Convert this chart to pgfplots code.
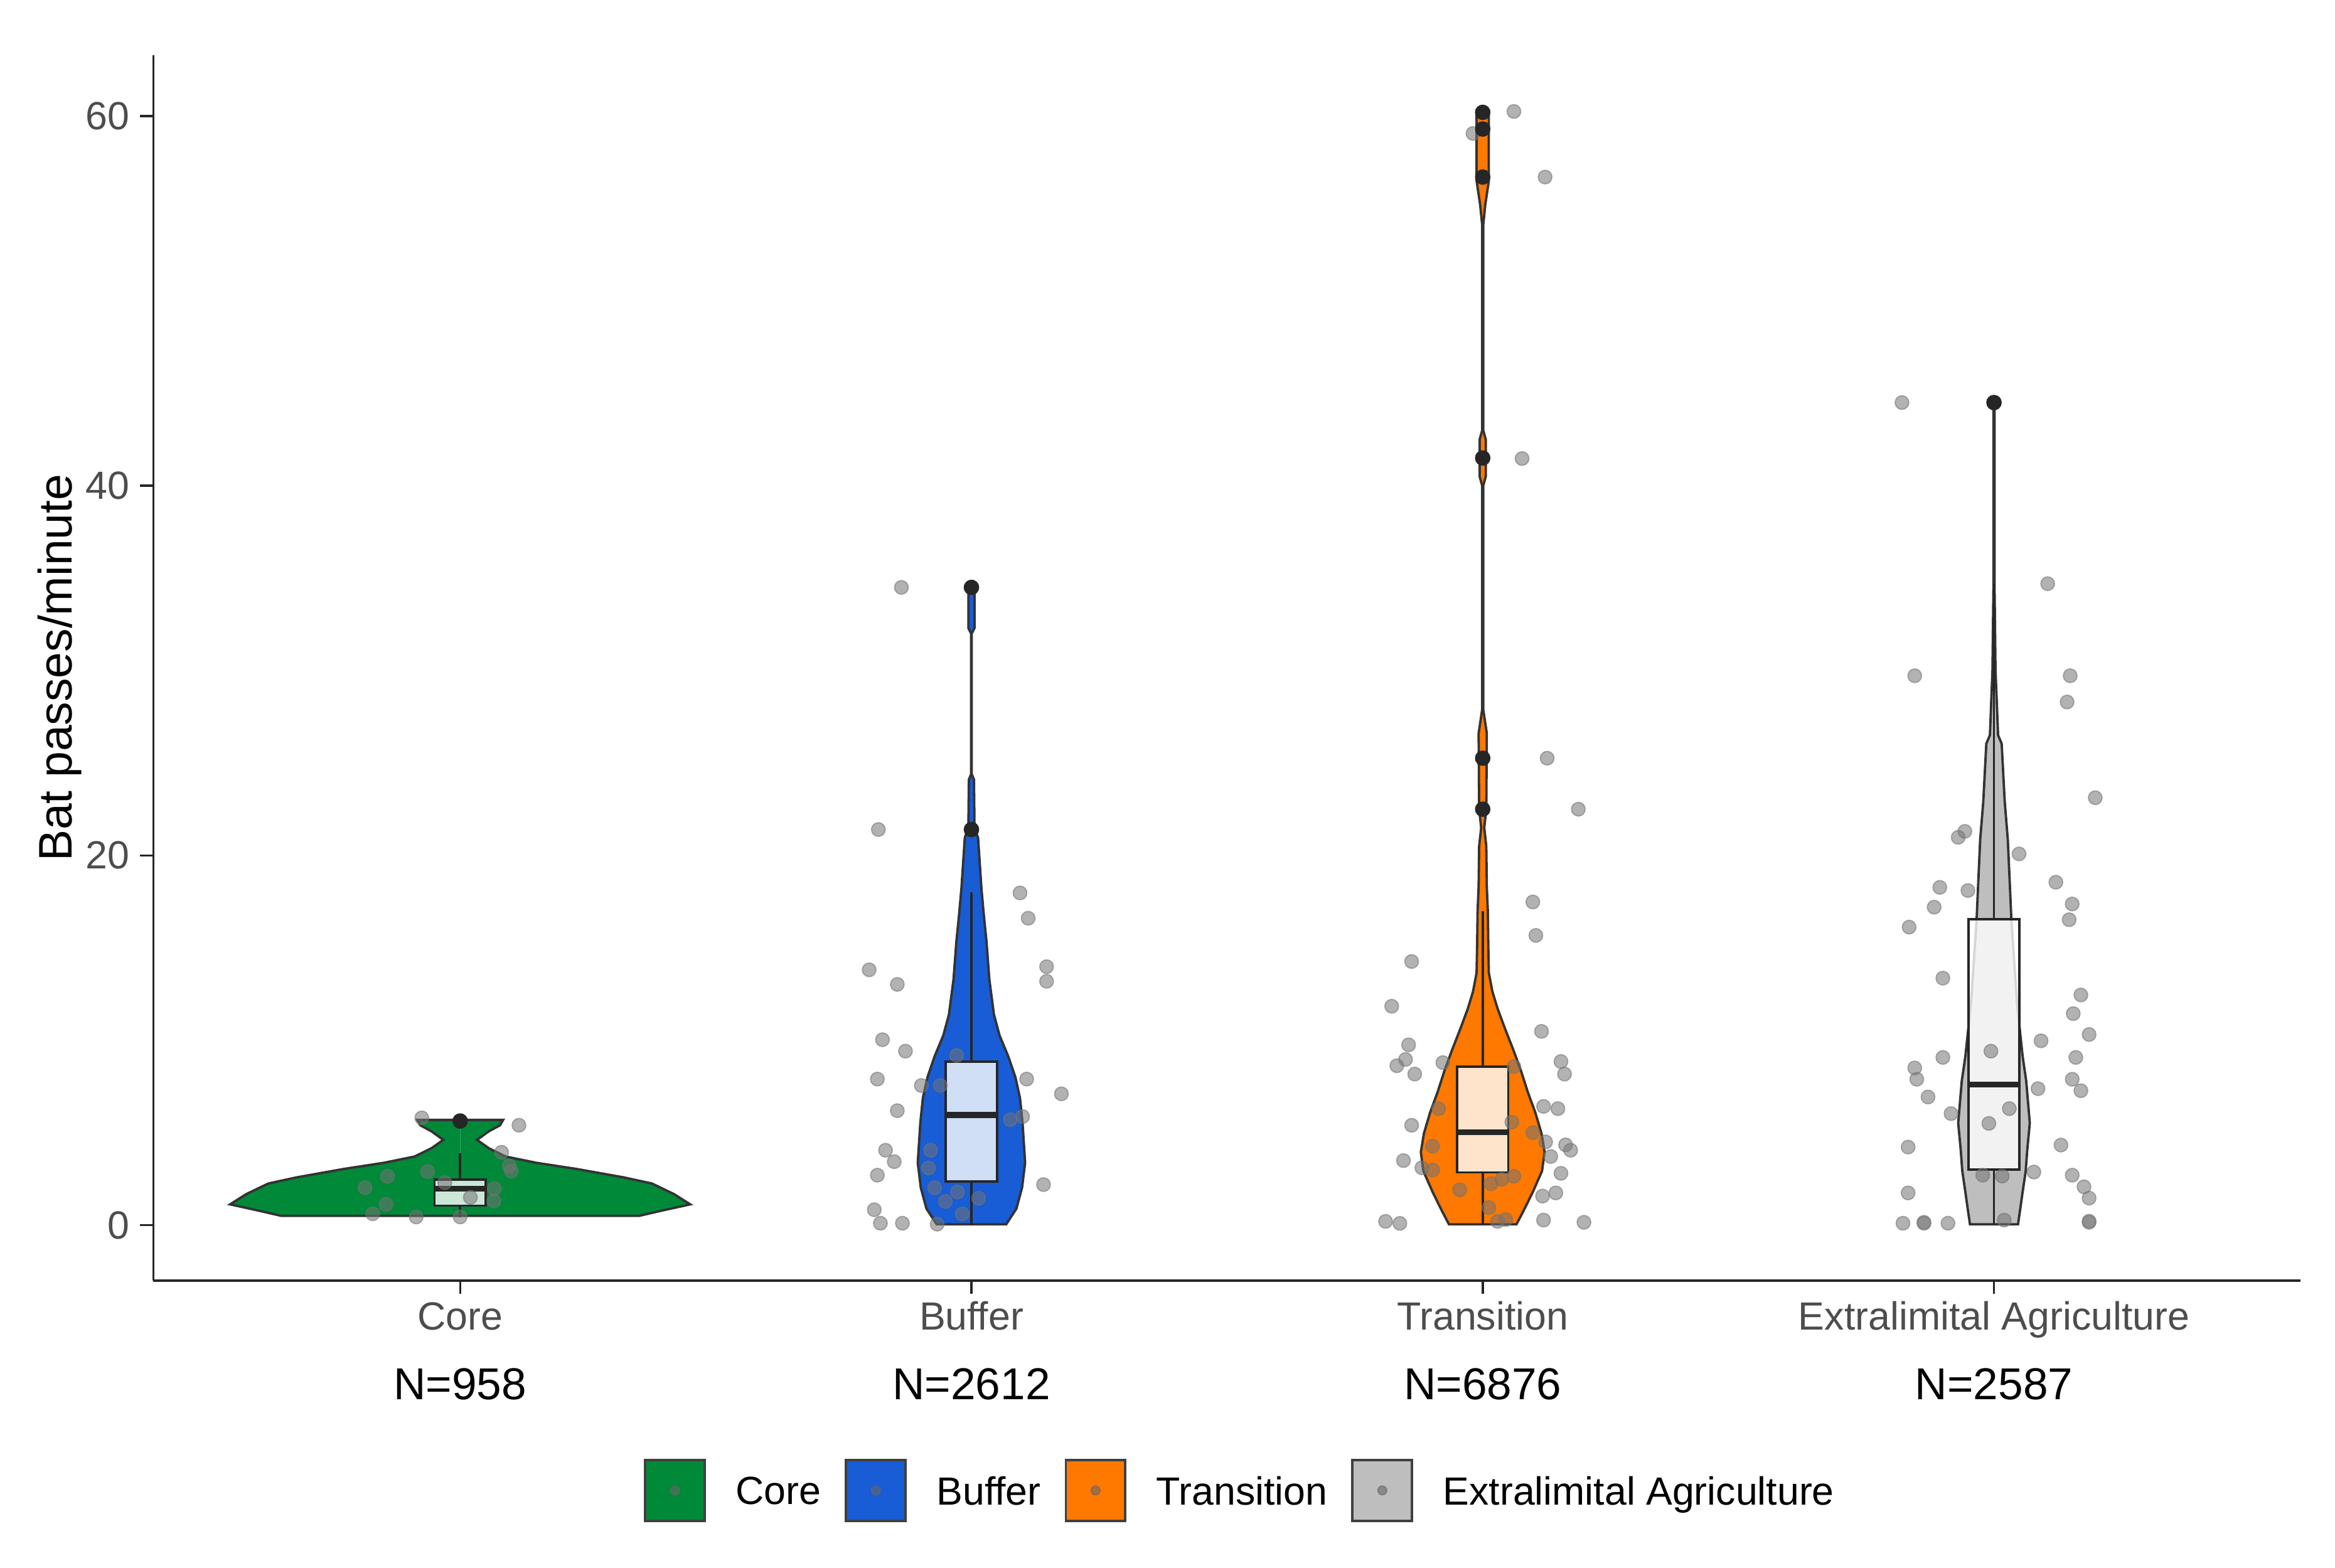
\documentclass[border=0pt]{standalone}
\usepackage{fontspec}
\setmainfont{Liberation Sans}
\usepackage{pgfplots}
\usepackage{pgfplotstable}
\pgfplotsset{compat=1.18}
\usepgfplotslibrary{statistics}

\definecolor{coreg}{RGB}{0,137,56}
\definecolor{bufb}{RGB}{24,92,214}
\definecolor{trano}{RGB}{255,121,0}
\definecolor{extg}{RGB}{190,190,190}
\definecolor{labgray}{RGB}{77,77,77}

\newcommand{\ticksize}{\fontsize{13.2pt}{15.8pt}\selectfont}
\newcommand{\labsize}{\fontsize{15.8pt}{19pt}\selectfont}
\newcommand{\nsize}{\fontsize{15pt}{18pt}\selectfont}

% violin outlines: y and half width (category units)
\pgfplotstableread{
y w
0.50 0
0.50 0.350
0.78 0.394
1.12 0.450
1.68 0.418
2.25 0.375
2.58 0.320
3.04 0.227
3.37 0.149
3.71 0.089
4.16 0.056
4.61 0.033
5.07 0.056
5.40 0.078
5.69 0.084
5.69 0
}\coreviolin

\pgfplotstableread{
y w
0.04 0
0.04 0.068
0.89 0.088
2.02 0.099
3.37 0.105
5.52 0.100
6.87 0.095
8.00 0.086
9.13 0.072
10.26 0.055
11.39 0.044
13.30 0.035
15.33 0.0295
16.70 0.0245
18.20 0.0196
20.95 0.013
21.50 0.006
24.10 0.005
24.40 0.0005
32.00 0.0005
32.30 0.006
34.50 0.006
34.50 0
}\bufviolin

\pgfplotstableread{
y w
0.04 0
0.04 0.066
0.78 0.080
1.79 0.098
2.92 0.116
3.94 0.121
4.96 0.115
6.08 0.103
7.21 0.088
8.34 0.075
9.47 0.060
10.60 0.044
11.72 0.029
12.63 0.019
13.64 0.012
15.00 0.011
17.00 0.010
18.30 0.008
20.50 0.007
21.50 0.003
22.50 0.007
26.60 0.008
27.90 0.001
40.00 0.001
40.50 0.006
42.50 0.006
43.00 0.001
54.10 0.001
55.20 0.005
56.50 0.012
60.30 0.012
60.30 0
}\tranviolin

\pgfplotstableread{
y w
0.04 0
0.04 0.047
1.00 0.052
1.79 0.056
2.92 0.062
4.05 0.065
5.52 0.070
7.80 0.063
9.13 0.056
12.00 0.045
16.50 0.034
17.80 0.032
20.86 0.027
22.90 0.021
26.05 0.015
26.50 0.008
30.00 0.003
34.70 0.001
44.50 0.001
44.50 0
}\extviolin

\newcommand{\violin}[3]{%
  \addplot[fill=#3, draw=none] table[x expr=#2-\thisrow{w}, y=y] {#1};
  \addplot[fill=#3, draw=none] table[x expr=#2+\thisrow{w}, y=y] {#1};
  \addplot[draw=black!80, line width=0.8pt] table[x expr=#2-\thisrow{w}, y=y] {#1};
  \addplot[draw=black!80, line width=0.8pt] table[x expr=#2+\thisrow{w}, y=y] {#1};
}
\newcommand{\vkey}[1]{%
  \addlegendimage{legend image code/.code={
    \draw[fill=#1, draw=black!75, line width=0.8pt] (0pt,-9.5pt) rectangle (20pt,11pt);
    \fill[black!60, opacity=0.6] (10pt,0.75pt) circle (1.5pt);}}
}
\newcommand{\statbox}[6]{%
  \addplot[boxplot prepared={draw position=#1, lower whisker=#2, lower quartile=#3,
      median=#4, upper quartile=#5, upper whisker=#6, box extend=0.1, whisker extend=0},
    fill=white, fill opacity=0.8, draw=black!85, line width=0.8pt, mark=none] coordinates {};
}

\begin{document}
\begin{tikzpicture}
\begin{axis}[
  width=721pt, height=411.5pt, scale only axis,
  xmin=0.4, xmax=4.6, ymin=-3.0, ymax=63.3,
  axis lines=left, axis line style={-, line width=0.75pt, black!85},
  xtick={1,2,3,4},
  xticklabels={Core,Buffer,Transition,Extralimital Agriculture},
  ytick={0,20,40,60},
  tick align=outside, major tick length=4.5pt,
  tick style={line width=0.75pt, black!85},
  ticklabel style={font=\ticksize, text=labgray},
  xticklabel style={anchor=base, yshift=-12pt},
  /pgf/number format/assume math mode=true,
  ylabel={Bat passes/minute},
  every axis y label/.style={at={(axis description cs:-0.0437,0.5)}, rotate=90, anchor=center, font=\labsize},
  every axis plot/.append style={forget plot},
  boxplot/draw direction=y,
  boxplot/every median/.style={line width=2pt},
  clip=false,
  legend columns=4,
  legend cell align=left,
  legend style={at={(axis description cs:0.507,-0.1713)}, anchor=center, draw=none, fill=none,
    font=\ticksize, inner sep=0pt,
    /tikz/every odd column/.append style={column sep=8pt},
    /tikz/every even column/.append style={column sep=6pt}},
]
\violin{\coreviolin}{1}{coreg}
\violin{\bufviolin}{2}{bufb}
\violin{\tranviolin}{3}{trano}
\violin{\extviolin}{4}{extg}

% jittered observations
\addplot[only marks, mark=*, mark size=2.3pt, color=black!55, opacity=0.55] coordinates {
(0.925,5.8) (1.115,5.4) (1.081,3.94) (1.1,2.92) (0.936,2.9) (0.858,2.64) (0.814,2.02) (1.067,1.97)
(0.855,1.12) (0.829,0.61) (0.914,0.44) (1.0,0.44) (1.066,1.3) (1.096,3.2) (1.02,1.5) (0.97,2.3)
(1.863,34.5) (1.818,21.4) (2.095,17.97) (2.111,16.6) (1.8,13.81) (1.855,13.02) (2.147,13.98) (2.147,13.19)
(1.826,10.03) (1.871,9.41) (1.816,7.9) (2.108,7.9) (2.176,7.1) (1.902,7.55) (1.939,7.55) (1.971,9.18)
(1.855,6.19) (2.076,5.7) (2.1,5.87) (1.832,4.05) (1.849,3.43) (1.92,4.05) (1.916,3.09) (1.816,2.7)
(2.141,2.19) (1.928,2.02) (1.973,1.79) (1.949,1.28) (2.014,1.45) (1.982,0.6) (1.81,0.83) (1.822,0.1)
(1.865,0.1) (1.933,0.05)
(3.061,60.25) (2.981,59.06) (3.122,56.7) (3.077,41.47) (3.126,25.26) (3.187,22.5) (3.098,17.48) (3.104,15.67)
(2.861,14.26) (2.822,11.84) (3.115,10.48) (2.855,9.75) (2.849,8.96) (2.832,8.62) (2.867,8.17) (2.922,8.79)
(3.153,8.85) (3.16,8.17) (3.061,8.57) (2.914,6.3) (3.119,6.42) (3.147,6.3) (2.861,5.4) (3.057,5.57)
(3.098,5.0) (3.123,4.5) (2.902,4.27) (3.162,4.34) (3.172,4.05) (2.845,3.49) (3.133,3.71) (2.902,2.98)
(2.881,3.1) (3.153,2.8) (3.061,2.64) (3.037,2.47) (2.955,1.91) (3.016,2.24) (3.143,1.74) (3.117,1.57)
(3.012,0.95) (2.81,0.2) (2.838,0.09) (3.119,0.27) (3.198,0.15) (3.029,0.2) (3.045,0.3)
(3.82,44.5) (4.105,34.7) (3.845,29.72) (4.149,29.72) (4.143,28.3) (4.198,23.12) (3.943,21.3) (3.93,20.98)
(4.049,20.08) (4.121,18.55) (3.894,18.27) (3.949,18.1) (3.883,17.2) (4.153,17.37) (4.147,16.52) (3.834,16.12)
(3.9,13.36) (4.17,12.45) (4.155,11.44) (4.186,10.31) (4.092,9.97) (3.9,9.07) (4.16,9.07) (3.845,8.5)
(3.849,7.89) (4.153,7.89) (4.17,7.27) (4.086,7.38) (3.871,6.93) (3.916,6.03) (3.994,9.41) (4.131,4.33)
(3.832,4.22) (4.078,2.87) (4.153,2.7) (4.176,2.07) (4.186,1.46) (3.832,1.74) (3.822,0.1) (3.863,0.1)
(3.863,0.15) (3.91,0.1) (4.186,0.21) (4.186,0.15) (4.02,0.27) (3.978,2.7) (4.016,2.65) (3.99,5.5) (4.03,6.3)
};

\statbox{1}{0.44}{1.05}{1.96}{2.47}{3.9}
\statbox{2}{0}{2.36}{5.95}{8.85}{18.0}
\statbox{3}{0}{2.85}{5.03}{8.57}{17.0}
\statbox{4}{0}{3.0}{7.6}{16.55}{34.7}

% boxplot outliers
\addplot[only marks, mark=*, mark size=2.4pt, black!85] coordinates {
(1,5.63) (2,21.4) (2,34.5) (3,22.5) (3,25.26) (3,41.5) (3,56.7) (3,59.3) (3,60.2) (4,44.5)};

\node[anchor=base, font=\nsize] at ([yshift=-40pt]axis cs:1,-3.0) {N=958};
\node[anchor=base, font=\nsize] at ([yshift=-40pt]axis cs:2,-3.0) {N=2612};
\node[anchor=base, font=\nsize] at ([yshift=-40pt]axis cs:3,-3.0) {N=6876};
\node[anchor=base, font=\nsize] at ([yshift=-40pt]axis cs:4,-3.0) {N=2587};

\vkey{coreg}\addlegendentry{Core}
\vkey{bufb}\addlegendentry{Buffer}
\vkey{trano}\addlegendentry{Transition}
\vkey{extg}\addlegendentry{Extralimital Agriculture}
\end{axis}
\pgfresetboundingbox
\path ([xshift=-51.5pt, yshift=-96.5pt]current axis.south west) rectangle ([xshift=11.5pt, yshift=18.5pt]current axis.north east);
\end{tikzpicture}
\end{document}
